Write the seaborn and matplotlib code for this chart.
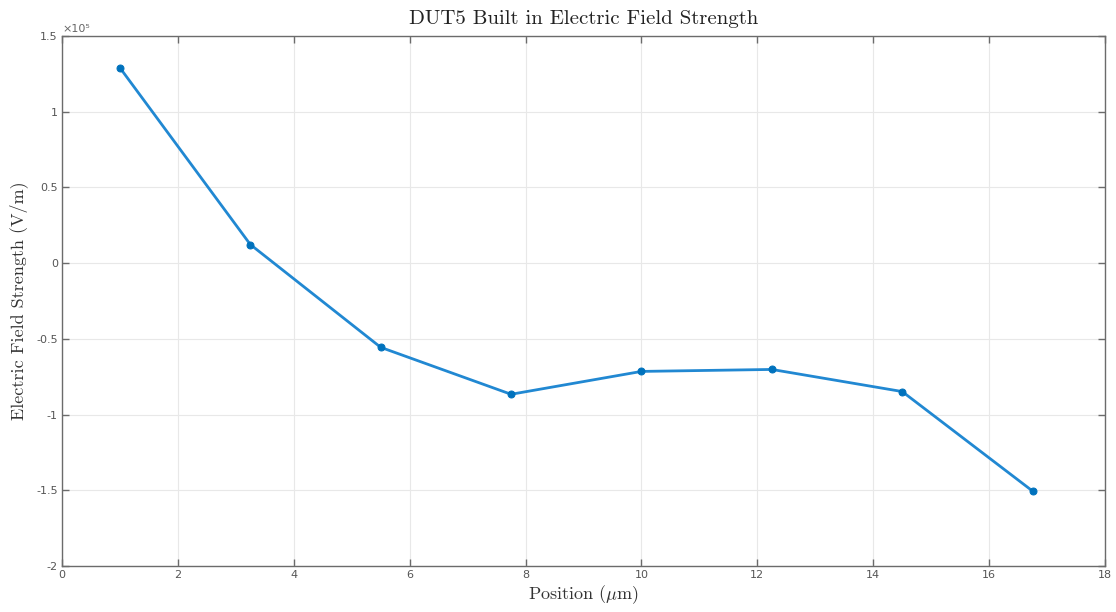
import matplotlib
matplotlib.use("Agg")
import matplotlib.pyplot as plt
import seaborn as sns
import pandas as pd
from matplotlib.ticker import FuncFormatter

# Data
position_um = [1.0, 3.25, 5.5, 7.75, 10.0, 12.25, 14.5, 16.75]
field_v_per_m = [1.29e5, 0.123e5, -0.556e5, -0.866e5, -0.715e5, -0.702e5, -0.848e5, -1.505e5]
x_ticks = [0, 2, 4, 6, 8, 10, 12, 14, 16, 18]
y_ticks = [-2e5, -1.5e5, -1e5, -0.5e5, 0, 0.5e5, 1e5, 1.5e5]

df = pd.DataFrame({"Position": position_um, "Field": field_v_per_m})

sns.set_theme(style="white")
plt.rcParams["mathtext.fontset"] = "cm"
plt.rcParams["axes.unicode_minus"] = False

fig = plt.figure(figsize=(11.16, 6.12), dpi=100)
ax = fig.add_axes([62 / 1116, 1 - 566 / 612, (1105 - 62) / 1116, (566 - 36) / 612])

sns.lineplot(data=df, x="Position", y="Field", ax=ax, color="#2188d2", linewidth=2.0,
             marker="o", markersize=5, markerfacecolor="#0072BD", markeredgecolor="#0072BD")

ax.set_xlim(0, 18)
ax.set_ylim(-2e5, 1.5e5)
ax.set_xticks(x_ticks)
ax.set_yticks(y_ticks)
ax.yaxis.set_major_formatter(FuncFormatter(lambda v, p: "%g" % (v / 1e5)))
ax.xaxis.set_major_formatter(FuncFormatter(lambda v, p: "%g" % v))

ax.grid(True, color="#e8e8e8", linewidth=0.8)
ax.set_axisbelow(True)
for s in ax.spines.values():
    s.set_color("#6b6b6b")
    s.set_linewidth(1.0)
    s.set_visible(True)
ax.tick_params(direction="in", length=5, width=1.0, color="#6b6b6b",
               labelcolor="#555555", labelsize=8, top=True, right=True,
               bottom=True, left=True, pad=3)

serif = ["cmr10", "DejaVu Serif"]
ax.set_title("DUT5 Built in Electric Field Strength", fontsize=15, family=serif,
             color="#222222", pad=9)
ax.set_xlabel(r"Position ($\mu$m)", fontsize=13, family=serif, color="#333333", labelpad=2)
ax.set_ylabel("Electric Field Strength (V/m)", fontsize=13, family=serif, color="#333333", labelpad=6)

ax.text(0.0, 1.004, "\u00d710\u2075", transform=ax.transAxes, fontsize=8, color="#666666",
        ha="left", va="bottom", family="DejaVu Sans")

fig.savefig("out.png", dpi=100, facecolor="white")
